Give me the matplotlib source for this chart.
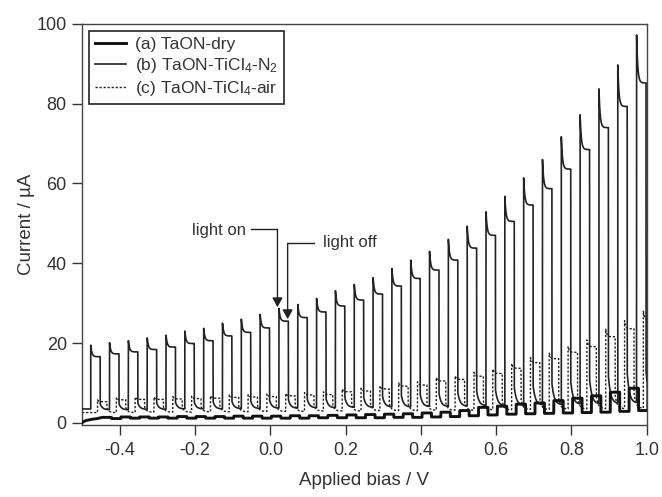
import numpy as np
import matplotlib
matplotlib.use("Agg")
from matplotlib import pyplot as plt

plt.rcParams['font.family'] = ['Liberation Sans', 'DejaVu Sans']
plt.rcParams['mathtext.fontset'] = 'custom'
plt.rcParams['mathtext.rm'] = 'Liberation Sans'
plt.rcParams['mathtext.default'] = 'regular'
plt.rcParams['axes.unicode_minus'] = False

# chopped-light photocurrent, values
# bias (V) at which the light goes on for trace (b)
light_on_b = [-0.477, -0.427, -0.377, -0.327, -0.277, -0.227, -0.177, -0.127, -0.077, -0.027,
              0.023, 0.073, 0.123, 0.173, 0.223, 0.273, 0.323, 0.373, 0.423, 0.473,
              0.523, 0.573, 0.623, 0.673, 0.723, 0.773, 0.823, 0.873, 0.923, 0.973]
delay_c = 0.018   # (c) chopped slightly later
delay_a = 0.030   # (a) chopped later still
light_width = 0.025

# (b) TaON-TiCl4-N2 (uA)
b_peak = [19.5, 20.1, 20.6, 21.3, 22.0, 23.0, 23.7, 25.0, 26.0, 27.2,
          28.7, 29.7, 31.2, 33.1, 34.7, 36.4, 38.7, 40.8, 43.0, 46.0,
          49.3, 52.9, 56.8, 61.4, 66.0, 71.7, 77.2, 83.7, 89.7, 97.2]
b_plateau = [16.6, 17.3, 17.8, 18.4, 19.0, 19.9, 20.6, 21.8, 22.7, 23.8,
             25.5, 26.4, 27.8, 29.3, 30.8, 32.3, 34.3, 36.2, 38.3, 40.8,
             43.8, 47.0, 50.5, 54.6, 58.7, 63.6, 68.5, 74.0, 79.3, 85.2]
b_dark = [3.3, 3.3, 3.4, 3.4, 3.5, 3.5, 3.5, 3.6, 3.6, 3.7,
          3.7, 3.8, 3.8, 3.9, 3.9, 4.0, 4.0, 4.1, 4.1, 4.2,
          4.3, 4.3, 4.4, 4.5, 4.6, 4.7, 4.8, 4.9, 5.0, 5.1]
b_tail = [1.5, 1.5, 1.6, 1.6, 1.7, 1.7, 1.8, 1.8, 1.9, 2.0,
          2.1, 2.2, 2.3, 2.4, 2.5, 2.7, 2.9, 3.1, 3.3, 3.5,
          3.8, 4.1, 4.5, 4.9, 5.3, 5.8, 6.3, 6.9, 7.5, 8.0]
b_start = 3.5

# (c) TaON-TiCl4-air
c_peak = [5.8, 6.4, 6.5, 6.5, 6.6, 6.7, 6.8, 7.0, 7.1, 7.25,
          7.4, 7.6, 7.8, 8.5, 8.7, 9.3, 10.0, 10.3, 11.4, 11.8,
          12.7, 13.5, 14.9, 16.4, 17.5, 19.2, 20.8, 23.5, 25.6, 28.0]
c_plateau = [5.3, 5.8, 5.9, 5.9, 6.0, 6.1, 6.2, 6.4, 6.5, 6.6,
             6.8, 7.0, 7.1, 7.8, 8.0, 8.5, 9.2, 9.5, 10.5, 10.9,
             11.7, 12.4, 13.7, 15.1, 16.1, 17.7, 19.1, 21.6, 23.6, 25.8]
c_dark = [2.6, 2.6, 2.7, 2.7, 2.7, 2.8, 2.8, 2.8, 2.9, 2.9,
          2.9, 3.0, 3.0, 3.0, 3.1, 3.1, 3.1, 3.2, 3.2, 3.2,
          3.3, 3.3, 3.4, 3.4, 3.5, 3.5, 3.6, 3.6, 3.7, 3.8]
c_tail = [1.2, 1.3, 1.3, 1.3, 1.3, 1.3, 1.4, 1.4, 1.4, 1.4,
          1.5, 1.5, 1.5, 1.6, 1.6, 1.7, 1.8, 1.8, 1.9, 2.0,
          2.1, 2.2, 2.4, 2.6, 2.7, 2.9, 3.1, 3.4, 3.7, 4.0]
c_start = 2.6

# (a) TaON-dry
a_light = [1.4, 1.5, 1.5, 1.5, 1.6, 1.6, 1.6, 1.7, 1.7, 1.7,
           1.8, 1.8, 1.9, 2.0, 2.1, 2.2, 2.3, 2.5, 2.7, 3.1,
           3.9, 4.2, 4.7, 5.0, 5.6, 6.2, 6.8, 7.7, 8.7, 9.5]
a_dark = [1.1, 1.2, 1.2, 1.2, 1.2, 1.2, 1.2, 1.2, 1.2, 1.2,
          1.2, 1.3, 1.3, 1.3, 1.3, 1.4, 1.4, 1.5, 1.6, 1.8,
          2.0, 2.2, 2.3, 2.4, 2.5, 2.6, 2.7, 2.9, 3.1, 3.3]
a_start_v = [-0.5, -0.49, -0.475, -0.46]
a_start_i = [0.1, 0.6, 0.9, 1.1]


def chopped(on, peak, plateau, dark, tail, tau_on, tau_off, step=0.0002):
    v_all, i_all = [], []
    for k in range(len(on)):
        t_on = on[k]
        t_off = t_on + light_width
        t_next = on[k + 1] if k + 1 < len(on) else t_off + light_width
        v1 = np.arange(t_on, t_off, step)
        i1 = plateau[k] + (peak[k] - plateau[k]) * np.exp(-(v1 - t_on) / tau_on)
        v2 = np.arange(t_off, t_next, step)
        i2 = dark[k] + tail[k] * np.exp(-(v2 - t_off) / tau_off)
        v_all += [v1, v2]
        i_all += [i1, i2]
    return np.concatenate(v_all), np.concatenate(i_all)


on_b = np.array(light_on_b)
vb, ib = chopped(on_b, b_peak, b_plateau, b_dark, b_tail, 0.003, 0.006)
vb = np.concatenate([[-0.5, on_b[0]], vb])
ib = np.concatenate([[b_start, b_start], ib])

on_c = on_b + delay_c
vc, ic = chopped(on_c, c_peak, c_plateau, c_dark, c_tail, 0.003, 0.005)
vc = np.concatenate([[-0.5, on_c[0]], vc])
ic = np.concatenate([[c_start, c_start], ic])

on_a = on_b + delay_a
va, ia = chopped(on_a, a_light, a_light, a_dark, [0] * len(a_light), 1.0, 1.0)
va = np.concatenate([a_start_v, va])
ia = np.concatenate([a_start_i, ia])

fig = plt.figure(figsize=(6.62, 4.97), dpi=100)
ax = fig.add_axes([0.124, 0.145, 0.853, 0.807])

ax.plot(vc, ic, color='#222222', lw=1.0, ls=(0, (1.6, 1.3)), label='(c) TaON-TiCl$_4$-air', zorder=2)
ax.plot(vb, ib, color='#222222', lw=1.2, label='(b) TaON-TiCl$_4$-N$_2$', zorder=3)
ax.plot(va, ia, color='#111111', lw=2.1, label='(a) TaON-dry', zorder=4)

ax.set_xlim(-0.5, 1.0)
ax.set_ylim(-0.5, 100)
ax.set_xticks([-0.4, -0.2, 0.0, 0.2, 0.4, 0.6, 0.8, 1.0])
ax.set_xticklabels(['-0.4', '-0.2', '0.0', '0.2', '0.4', '0.6', '0.8', '1.0'])
ax.set_yticks([0, 20, 40, 60, 80, 100])
ax.tick_params(direction='out', length=7.5, width=1, color='#333333',
               labelsize=13, labelcolor='#333333')
ax.tick_params(axis='x', pad=5)
ax.tick_params(axis='y', pad=3.5)
for s in ax.spines.values():
    s.set_color('#444444')
    s.set_linewidth(1.0)

ax.set_xlabel('Applied bias / V', fontsize=13.5, color='#333333', labelpad=9)
ax.set_ylabel('Current / \u00b5A', fontsize=13.5, color='#333333', labelpad=1)

h, l = ax.get_legend_handles_labels()
leg = ax.legend(h[::-1], l[::-1], loc='upper left', fontsize=12.5, frameon=True, fancybox=False,
                edgecolor='#222222', framealpha=1, handlelength=1.8, handletextpad=0.5,
                labelspacing=0.22, borderpad=0.35, borderaxespad=0.4)
leg.get_frame().set_linewidth(1.2)
for t in leg.get_texts():
    t.set_color('#333333')

arrow = dict(arrowstyle='-|>,head_length=0.4,head_width=0.22', color='#222222',
             lw=1.0, shrinkA=0, shrinkB=0, mutation_scale=14)
ax.plot([-0.052, 0.019], [48.5, 48.5], color='#222222', lw=1.0)
ax.annotate('', xy=(0.019, 29.0), xytext=(0.019, 48.5), arrowprops=arrow)
ax.text(-0.065, 48.3, 'light on', ha='right', va='center', fontsize=12, color='#333333')
ax.plot([0.116, 0.046], [45.0, 45.0], color='#222222', lw=1.0)
ax.annotate('', xy=(0.046, 26.0), xytext=(0.046, 45.0), arrowprops=arrow)
ax.text(0.139, 45.2, 'light off', ha='left', va='center', fontsize=12, color='#333333')

fig.savefig('out.png', dpi=100)
